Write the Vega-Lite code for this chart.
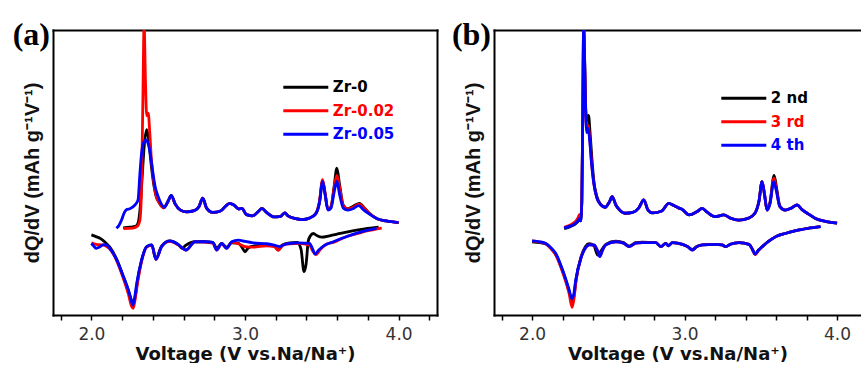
{
  "$schema": "https://vega.github.io/schema/vega-lite/v6.json",
  "background": "white",
  "padding": {"left": 12, "top": 19, "right": 0, "bottom": 0},
  "spacing": 14,
  "config": {
    "view": {"stroke": null},
    "axisX": {
      "values": [1.75, 2, 2.25, 2.5, 2.75, 3, 3.25, 3.5, 3.75, 4, 4.25],
      "labelExpr": "(datum.value * 4) % 2 == 0 ? format(datum.value, '.1f') : ''",
      "tickSize": 5, "tickWidth": 1.5, "tickColor": "black", "domain": true, "domainColor": "black", "domainWidth": 2, "domainCap": "square", "grid": false,
      "labelFont": "DejaVu Sans", "labelFontSize": 17, "labelColor": "#333333", "labelPadding": 6,
      "labelFlush": false, "labelOverlap": false,
      "titleFont": "DejaVu Sans", "titleFontSize": 18, "titleFontWeight": "bold", "titleColor": "#111111", "titlePadding": 3
    },
    "axisY": {
      "labels": false, "ticks": false, "domain": true, "domainColor": "black", "domainWidth": 2, "domainCap": "square", "grid": false,
      "titleFont": "Liberation Sans", "titleFontSize": 20, "titleFontWeight": "bold", "titleColor": "#111111", "titlePadding": 11
    },
    "legend": {
      "orient": "none", "title": null, "padding": 0,
      "symbolType": "M-3,0H3", "symbolSize": 225, "symbolStrokeWidth": 3,
      "labelFont": "DejaVu Sans", "labelFontSize": 15, "labelFontWeight": "bold", "labelOffset": 18, "rowPadding": 6.5
    }
  },
  "resolve": {"scale": {"color": "independent"}, "legend": {"color": "independent"}},
  "hconcat": [
    {
      "width": 384, "height": 285,
      "title": {"text": "(a)", "anchor": "start", "frame": "group", "orient": "top", "align": "right", "baseline": "alphabetic", "offset": -15, "dy": 32, "dx": -3, "font": "Liberation Serif", "fontSize": 32, "fontWeight": "bold", "color": "black"},
      "data": {"values": [
        {"s":"Zr-0","b":"c","v":2.207,"q":30.6},{"s":"Zr-0","b":"c","v":2.25,"q":30.8},{"s":"Zr-0","b":"c","v":2.29,"q":31.2},{"s":"Zr-0","b":"c","v":2.305,"q":32.5},{"s":"Zr-0","b":"c","v":2.318,"q":38},{"s":"Zr-0","b":"c","v":2.33,"q":48},{"s":"Zr-0","b":"c","v":2.345,"q":60},{"s":"Zr-0","b":"c","v":2.36,"q":65},{"s":"Zr-0","b":"c","v":2.372,"q":62},{"s":"Zr-0","b":"c","v":2.385,"q":55},{"s":"Zr-0","b":"c","v":2.4,"q":48},{"s":"Zr-0","b":"c","v":2.42,"q":42},{"s":"Zr-0","b":"c","v":2.44,"q":39.5},
        {"s":"Zr-0","b":"c","v":2.47,"q":37.6},{"s":"Zr-0","b":"c","v":2.5,"q":40},{"s":"Zr-0","b":"c","v":2.52,"q":42},{"s":"Zr-0","b":"c","v":2.545,"q":39},{"s":"Zr-0","b":"c","v":2.58,"q":36.8},{"s":"Zr-0","b":"c","v":2.62,"q":36.2},{"s":"Zr-0","b":"c","v":2.67,"q":36.6},{"s":"Zr-0","b":"c","v":2.7,"q":38},{"s":"Zr-0","b":"c","v":2.725,"q":41},{"s":"Zr-0","b":"c","v":2.75,"q":37.5},{"s":"Zr-0","b":"c","v":2.79,"q":36},{"s":"Zr-0","b":"c","v":2.84,"q":36.5},{"s":"Zr-0","b":"c","v":2.88,"q":38.5},{"s":"Zr-0","b":"c","v":2.9,"q":39.2},{"s":"Zr-0","b":"c","v":2.93,"q":38.5},{"s":"Zr-0","b":"c","v":2.96,"q":37.2},{"s":"Zr-0","b":"c","v":2.98,"q":37.4},{"s":"Zr-0","b":"c","v":3.01,"q":35.2},{"s":"Zr-0","b":"c","v":3.05,"q":34.8},{"s":"Zr-0","b":"c","v":3.09,"q":36.5},{"s":"Zr-0","b":"c","v":3.11,"q":37.4},{"s":"Zr-0","b":"c","v":3.14,"q":36},{"s":"Zr-0","b":"c","v":3.19,"q":34.4},{"s":"Zr-0","b":"c","v":3.23,"q":34.6},{"s":"Zr-0","b":"c","v":3.26,"q":35.8},{"s":"Zr-0","b":"c","v":3.28,"q":34.8},{"s":"Zr-0","b":"c","v":3.33,"q":33.8},{"s":"Zr-0","b":"c","v":3.37,"q":33.5},{"s":"Zr-0","b":"c","v":3.42,"q":34},{"s":"Zr-0","b":"c","v":3.46,"q":35.5},{"s":"Zr-0","b":"c","v":3.485,"q":39.5},{"s":"Zr-0","b":"c","v":3.505,"q":47},{"s":"Zr-0","b":"c","v":3.522,"q":42.5},{"s":"Zr-0","b":"c","v":3.54,"q":37},{"s":"Zr-0","b":"c","v":3.56,"q":38},{"s":"Zr-0","b":"c","v":3.58,"q":45},{"s":"Zr-0","b":"c","v":3.598,"q":51.5},{"s":"Zr-0","b":"c","v":3.615,"q":46},{"s":"Zr-0","b":"c","v":3.64,"q":38.5},{"s":"Zr-0","b":"c","v":3.67,"q":37.3},{"s":"Zr-0","b":"c","v":3.71,"q":38.3},{"s":"Zr-0","b":"c","v":3.745,"q":39.2},{"s":"Zr-0","b":"c","v":3.78,"q":37.4},{"s":"Zr-0","b":"c","v":3.81,"q":35.7},{"s":"Zr-0","b":"c","v":3.86,"q":33.8},{"s":"Zr-0","b":"c","v":3.92,"q":33},{"s":"Zr-0","b":"c","v":4.0,"q":32.4},
        {"s":"Zr-0","b":"d","v":2.0,"q":28.1},{"s":"Zr-0","b":"d","v":2.03,"q":27.5},{"s":"Zr-0","b":"d","v":2.06,"q":26.8},{"s":"Zr-0","b":"d","v":2.09,"q":25.5},{"s":"Zr-0","b":"d","v":2.12,"q":23.8},{"s":"Zr-0","b":"d","v":2.165,"q":19.5},{"s":"Zr-0","b":"d","v":2.208,"q":13.5},{"s":"Zr-0","b":"d","v":2.24,"q":8.8},{"s":"Zr-0","b":"d","v":2.262,"q":5},{"s":"Zr-0","b":"d","v":2.272,"q":4},{"s":"Zr-0","b":"d","v":2.285,"q":6.5},{"s":"Zr-0","b":"d","v":2.3,"q":12},{"s":"Zr-0","b":"d","v":2.327,"q":19.3},{"s":"Zr-0","b":"d","v":2.36,"q":24},{"s":"Zr-0","b":"d","v":2.393,"q":24.6},{"s":"Zr-0","b":"d","v":2.42,"q":19.8},{"s":"Zr-0","b":"d","v":2.457,"q":24.2},{"s":"Zr-0","b":"d","v":2.51,"q":26},{"s":"Zr-0","b":"d","v":2.566,"q":24.7},{"s":"Zr-0","b":"d","v":2.59,"q":23.4},{"s":"Zr-0","b":"d","v":2.616,"q":24.5},{"s":"Zr-0","b":"d","v":2.674,"q":25.7},{"s":"Zr-0","b":"d","v":2.74,"q":25.7},{"s":"Zr-0","b":"d","v":2.79,"q":25.5},{"s":"Zr-0","b":"d","v":2.816,"q":23.5},{"s":"Zr-0","b":"d","v":2.848,"q":25.1},{"s":"Zr-0","b":"d","v":2.88,"q":23.8},{"s":"Zr-0","b":"d","v":2.913,"q":25.3},{"s":"Zr-0","b":"d","v":2.956,"q":25.2},{"s":"Zr-0","b":"d","v":2.98,"q":23.8},{"s":"Zr-0","b":"d","v":3.0,"q":22.2},{"s":"Zr-0","b":"d","v":3.02,"q":23.5},{"s":"Zr-0","b":"d","v":3.054,"q":24.2},{"s":"Zr-0","b":"d","v":3.141,"q":24.5},{"s":"Zr-0","b":"d","v":3.19,"q":24.3},{"s":"Zr-0","b":"d","v":3.217,"q":22.8},{"s":"Zr-0","b":"d","v":3.24,"q":24.5},{"s":"Zr-0","b":"d","v":3.29,"q":25.3},{"s":"Zr-0","b":"d","v":3.34,"q":25.5},{"s":"Zr-0","b":"d","v":3.365,"q":23},{"s":"Zr-0","b":"d","v":3.384,"q":15.2},{"s":"Zr-0","b":"d","v":3.398,"q":18},{"s":"Zr-0","b":"d","v":3.412,"q":26},{"s":"Zr-0","b":"d","v":3.425,"q":27.7},{"s":"Zr-0","b":"d","v":3.445,"q":28.6},{"s":"Zr-0","b":"d","v":3.47,"q":27.8},{"s":"Zr-0","b":"d","v":3.5,"q":27.3},{"s":"Zr-0","b":"d","v":3.55,"q":27.8},{"s":"Zr-0","b":"d","v":3.62,"q":28.6},{"s":"Zr-0","b":"d","v":3.7,"q":29.5},{"s":"Zr-0","b":"d","v":3.78,"q":30.2},{"s":"Zr-0","b":"d","v":3.87,"q":30.8},
        {"s":"Zr-0.02","b":"c","v":2.21,"q":30.3},{"s":"Zr-0.02","b":"c","v":2.27,"q":30.5},{"s":"Zr-0.02","b":"c","v":2.3,"q":31.2},{"s":"Zr-0.02","b":"c","v":2.315,"q":33},{"s":"Zr-0.02","b":"c","v":2.325,"q":42},{"s":"Zr-0.02","b":"c","v":2.335,"q":75},{"s":"Zr-0.02","b":"c","v":2.343,"q":102},{"s":"Zr-0.02","b":"c","v":2.352,"q":82},{"s":"Zr-0.02","b":"c","v":2.36,"q":70},{"s":"Zr-0.02","b":"c","v":2.37,"q":70.8},{"s":"Zr-0.02","b":"c","v":2.38,"q":64},{"s":"Zr-0.02","b":"c","v":2.39,"q":55},{"s":"Zr-0.02","b":"c","v":2.405,"q":47},{"s":"Zr-0.02","b":"c","v":2.42,"q":42},{"s":"Zr-0.02","b":"c","v":2.44,"q":39.5},
        {"s":"Zr-0.02","b":"c","v":2.47,"q":37.6},{"s":"Zr-0.02","b":"c","v":2.5,"q":40},{"s":"Zr-0.02","b":"c","v":2.52,"q":41.8},{"s":"Zr-0.02","b":"c","v":2.545,"q":39},{"s":"Zr-0.02","b":"c","v":2.58,"q":36.8},{"s":"Zr-0.02","b":"c","v":2.62,"q":36.2},{"s":"Zr-0.02","b":"c","v":2.67,"q":36.6},{"s":"Zr-0.02","b":"c","v":2.7,"q":38},{"s":"Zr-0.02","b":"c","v":2.725,"q":41},{"s":"Zr-0.02","b":"c","v":2.75,"q":37.5},{"s":"Zr-0.02","b":"c","v":2.79,"q":36},{"s":"Zr-0.02","b":"c","v":2.84,"q":36.5},{"s":"Zr-0.02","b":"c","v":2.88,"q":38.5},{"s":"Zr-0.02","b":"c","v":2.9,"q":39.2},{"s":"Zr-0.02","b":"c","v":2.93,"q":38.5},{"s":"Zr-0.02","b":"c","v":2.96,"q":37.2},{"s":"Zr-0.02","b":"c","v":2.98,"q":37.4},{"s":"Zr-0.02","b":"c","v":3.01,"q":35.2},{"s":"Zr-0.02","b":"c","v":3.05,"q":34.8},{"s":"Zr-0.02","b":"c","v":3.09,"q":36.5},{"s":"Zr-0.02","b":"c","v":3.11,"q":37.4},{"s":"Zr-0.02","b":"c","v":3.14,"q":36},{"s":"Zr-0.02","b":"c","v":3.19,"q":34.4},{"s":"Zr-0.02","b":"c","v":3.23,"q":34.6},{"s":"Zr-0.02","b":"c","v":3.26,"q":35.8},{"s":"Zr-0.02","b":"c","v":3.28,"q":34.8},{"s":"Zr-0.02","b":"c","v":3.33,"q":33.8},{"s":"Zr-0.02","b":"c","v":3.37,"q":33.5},{"s":"Zr-0.02","b":"c","v":3.42,"q":34},{"s":"Zr-0.02","b":"c","v":3.46,"q":35.5},{"s":"Zr-0.02","b":"c","v":3.485,"q":40},{"s":"Zr-0.02","b":"c","v":3.505,"q":47.5},{"s":"Zr-0.02","b":"c","v":3.522,"q":42.5},{"s":"Zr-0.02","b":"c","v":3.54,"q":37},{"s":"Zr-0.02","b":"c","v":3.56,"q":38},{"s":"Zr-0.02","b":"c","v":3.58,"q":44.5},{"s":"Zr-0.02","b":"c","v":3.598,"q":49},{"s":"Zr-0.02","b":"c","v":3.615,"q":45},{"s":"Zr-0.02","b":"c","v":3.64,"q":38.3},{"s":"Zr-0.02","b":"c","v":3.67,"q":37.2},{"s":"Zr-0.02","b":"c","v":3.71,"q":38},{"s":"Zr-0.02","b":"c","v":3.742,"q":38.9},{"s":"Zr-0.02","b":"c","v":3.78,"q":37.3},{"s":"Zr-0.02","b":"c","v":3.81,"q":35.6},{"s":"Zr-0.02","b":"c","v":3.86,"q":33.8},{"s":"Zr-0.02","b":"c","v":3.92,"q":33},{"s":"Zr-0.02","b":"c","v":4.0,"q":32.4},
        {"s":"Zr-0.02","b":"d","v":2.0,"q":25.3},{"s":"Zr-0.02","b":"d","v":2.03,"q":24.8},{"s":"Zr-0.02","b":"d","v":2.07,"q":24.6},{"s":"Zr-0.02","b":"d","v":2.1,"q":24},{"s":"Zr-0.02","b":"d","v":2.13,"q":22.5},{"s":"Zr-0.02","b":"d","v":2.165,"q":19},{"s":"Zr-0.02","b":"d","v":2.205,"q":13.3},{"s":"Zr-0.02","b":"d","v":2.24,"q":7.5},{"s":"Zr-0.02","b":"d","v":2.262,"q":3},{"s":"Zr-0.02","b":"d","v":2.272,"q":2.3},{"s":"Zr-0.02","b":"d","v":2.285,"q":5.5},{"s":"Zr-0.02","b":"d","v":2.3,"q":11},{"s":"Zr-0.02","b":"d","v":2.327,"q":18.8},{"s":"Zr-0.02","b":"d","v":2.36,"q":23.8},{"s":"Zr-0.02","b":"d","v":2.393,"q":24.4},{"s":"Zr-0.02","b":"d","v":2.42,"q":19.5},{"s":"Zr-0.02","b":"d","v":2.457,"q":24},{"s":"Zr-0.02","b":"d","v":2.51,"q":25.8},{"s":"Zr-0.02","b":"d","v":2.566,"q":24.6},{"s":"Zr-0.02","b":"d","v":2.616,"q":22.8},{"s":"Zr-0.02","b":"d","v":2.674,"q":25.7},{"s":"Zr-0.02","b":"d","v":2.74,"q":25.6},{"s":"Zr-0.02","b":"d","v":2.79,"q":25.2},{"s":"Zr-0.02","b":"d","v":2.816,"q":22.8},{"s":"Zr-0.02","b":"d","v":2.848,"q":25},{"s":"Zr-0.02","b":"d","v":2.88,"q":23.4},{"s":"Zr-0.02","b":"d","v":2.913,"q":25.5},{"s":"Zr-0.02","b":"d","v":2.956,"q":25},{"s":"Zr-0.02","b":"d","v":3.0,"q":24},{"s":"Zr-0.02","b":"d","v":3.054,"q":23.8},{"s":"Zr-0.02","b":"d","v":3.141,"q":24.3},{"s":"Zr-0.02","b":"d","v":3.19,"q":24},{"s":"Zr-0.02","b":"d","v":3.217,"q":22.8},{"s":"Zr-0.02","b":"d","v":3.25,"q":24.6},{"s":"Zr-0.02","b":"d","v":3.29,"q":25},{"s":"Zr-0.02","b":"d","v":3.35,"q":25.1},{"s":"Zr-0.02","b":"d","v":3.42,"q":24.5},{"s":"Zr-0.02","b":"d","v":3.44,"q":22.5},{"s":"Zr-0.02","b":"d","v":3.462,"q":21.2},{"s":"Zr-0.02","b":"d","v":3.49,"q":23},{"s":"Zr-0.02","b":"d","v":3.53,"q":24.8},{"s":"Zr-0.02","b":"d","v":3.575,"q":25.5},{"s":"Zr-0.02","b":"d","v":3.65,"q":27.3},{"s":"Zr-0.02","b":"d","v":3.727,"q":28.5},{"s":"Zr-0.02","b":"d","v":3.8,"q":29.6},{"s":"Zr-0.02","b":"d","v":3.857,"q":30.2},{"s":"Zr-0.02","b":"d","v":3.89,"q":30.5},
        {"s":"Zr-0.05","b":"c","v":2.163,"q":30.4},{"s":"Zr-0.05","b":"c","v":2.18,"q":31.5},{"s":"Zr-0.05","b":"c","v":2.196,"q":33.3},{"s":"Zr-0.05","b":"c","v":2.215,"q":36},{"s":"Zr-0.05","b":"c","v":2.23,"q":37},{"s":"Zr-0.05","b":"c","v":2.25,"q":37.3},{"s":"Zr-0.05","b":"c","v":2.272,"q":38},{"s":"Zr-0.05","b":"c","v":2.29,"q":39},{"s":"Zr-0.05","b":"c","v":2.304,"q":40.5},{"s":"Zr-0.05","b":"c","v":2.315,"q":49},{"s":"Zr-0.05","b":"c","v":2.327,"q":57},{"s":"Zr-0.05","b":"c","v":2.34,"q":60.5},{"s":"Zr-0.05","b":"c","v":2.355,"q":61.4},{"s":"Zr-0.05","b":"c","v":2.37,"q":60},{"s":"Zr-0.05","b":"c","v":2.385,"q":56},{"s":"Zr-0.05","b":"c","v":2.4,"q":50},{"s":"Zr-0.05","b":"c","v":2.415,"q":45},{"s":"Zr-0.05","b":"c","v":2.435,"q":41.5},{"s":"Zr-0.05","b":"c","v":2.455,"q":39},
        {"s":"Zr-0.05","b":"c","v":2.475,"q":37.8},{"s":"Zr-0.05","b":"c","v":2.5,"q":40},{"s":"Zr-0.05","b":"c","v":2.52,"q":42},{"s":"Zr-0.05","b":"c","v":2.545,"q":39},{"s":"Zr-0.05","b":"c","v":2.58,"q":36.8},{"s":"Zr-0.05","b":"c","v":2.62,"q":36.2},{"s":"Zr-0.05","b":"c","v":2.67,"q":36.6},{"s":"Zr-0.05","b":"c","v":2.7,"q":38},{"s":"Zr-0.05","b":"c","v":2.725,"q":41},{"s":"Zr-0.05","b":"c","v":2.75,"q":37.5},{"s":"Zr-0.05","b":"c","v":2.79,"q":36},{"s":"Zr-0.05","b":"c","v":2.84,"q":36.5},{"s":"Zr-0.05","b":"c","v":2.88,"q":38.5},{"s":"Zr-0.05","b":"c","v":2.9,"q":39.2},{"s":"Zr-0.05","b":"c","v":2.93,"q":38.5},{"s":"Zr-0.05","b":"c","v":2.96,"q":37.2},{"s":"Zr-0.05","b":"c","v":2.98,"q":37.4},{"s":"Zr-0.05","b":"c","v":3.01,"q":35.2},{"s":"Zr-0.05","b":"c","v":3.05,"q":34.8},{"s":"Zr-0.05","b":"c","v":3.09,"q":36.5},{"s":"Zr-0.05","b":"c","v":3.11,"q":37.4},{"s":"Zr-0.05","b":"c","v":3.14,"q":36},{"s":"Zr-0.05","b":"c","v":3.19,"q":34.4},{"s":"Zr-0.05","b":"c","v":3.23,"q":34.6},{"s":"Zr-0.05","b":"c","v":3.26,"q":35.8},{"s":"Zr-0.05","b":"c","v":3.28,"q":34.8},{"s":"Zr-0.05","b":"c","v":3.33,"q":33.8},{"s":"Zr-0.05","b":"c","v":3.37,"q":33.5},{"s":"Zr-0.05","b":"c","v":3.42,"q":34},{"s":"Zr-0.05","b":"c","v":3.46,"q":35.5},{"s":"Zr-0.05","b":"c","v":3.485,"q":39.5},{"s":"Zr-0.05","b":"c","v":3.505,"q":46.8},{"s":"Zr-0.05","b":"c","v":3.522,"q":42},{"s":"Zr-0.05","b":"c","v":3.54,"q":36.8},{"s":"Zr-0.05","b":"c","v":3.56,"q":37.5},{"s":"Zr-0.05","b":"c","v":3.58,"q":43},{"s":"Zr-0.05","b":"c","v":3.598,"q":47},{"s":"Zr-0.05","b":"c","v":3.615,"q":42.5},{"s":"Zr-0.05","b":"c","v":3.64,"q":37.5},{"s":"Zr-0.05","b":"c","v":3.67,"q":36.8},{"s":"Zr-0.05","b":"c","v":3.71,"q":37.5},{"s":"Zr-0.05","b":"c","v":3.74,"q":38.4},{"s":"Zr-0.05","b":"c","v":3.77,"q":37},{"s":"Zr-0.05","b":"c","v":3.81,"q":35.4},{"s":"Zr-0.05","b":"c","v":3.86,"q":33.8},{"s":"Zr-0.05","b":"c","v":3.92,"q":33},{"s":"Zr-0.05","b":"c","v":4.0,"q":32.4},
        {"s":"Zr-0.05","b":"d","v":2.0,"q":25.1},{"s":"Zr-0.05","b":"d","v":2.015,"q":24.2},{"s":"Zr-0.05","b":"d","v":2.03,"q":23.4},{"s":"Zr-0.05","b":"d","v":2.05,"q":23.8},{"s":"Zr-0.05","b":"d","v":2.08,"q":24.7},{"s":"Zr-0.05","b":"d","v":2.1,"q":24.5},{"s":"Zr-0.05","b":"d","v":2.12,"q":23.4},{"s":"Zr-0.05","b":"d","v":2.165,"q":19.3},{"s":"Zr-0.05","b":"d","v":2.208,"q":13.5},{"s":"Zr-0.05","b":"d","v":2.24,"q":8.8},{"s":"Zr-0.05","b":"d","v":2.258,"q":5.5},{"s":"Zr-0.05","b":"d","v":2.269,"q":3.5},{"s":"Zr-0.05","b":"d","v":2.28,"q":5.5},{"s":"Zr-0.05","b":"d","v":2.295,"q":11.1},{"s":"Zr-0.05","b":"d","v":2.327,"q":19.3},{"s":"Zr-0.05","b":"d","v":2.36,"q":24},{"s":"Zr-0.05","b":"d","v":2.393,"q":24.6},{"s":"Zr-0.05","b":"d","v":2.42,"q":19.5},{"s":"Zr-0.05","b":"d","v":2.457,"q":24},{"s":"Zr-0.05","b":"d","v":2.51,"q":26},{"s":"Zr-0.05","b":"d","v":2.566,"q":24.7},{"s":"Zr-0.05","b":"d","v":2.616,"q":22.8},{"s":"Zr-0.05","b":"d","v":2.674,"q":25.7},{"s":"Zr-0.05","b":"d","v":2.74,"q":25.7},{"s":"Zr-0.05","b":"d","v":2.79,"q":25.5},{"s":"Zr-0.05","b":"d","v":2.816,"q":22.8},{"s":"Zr-0.05","b":"d","v":2.848,"q":25.1},{"s":"Zr-0.05","b":"d","v":2.88,"q":23.4},{"s":"Zr-0.05","b":"d","v":2.913,"q":25.7},{"s":"Zr-0.05","b":"d","v":2.956,"q":26.3},{"s":"Zr-0.05","b":"d","v":3.0,"q":25.8},{"s":"Zr-0.05","b":"d","v":3.054,"q":25.3},{"s":"Zr-0.05","b":"d","v":3.141,"q":25},{"s":"Zr-0.05","b":"d","v":3.19,"q":24.5},{"s":"Zr-0.05","b":"d","v":3.228,"q":24},{"s":"Zr-0.05","b":"d","v":3.26,"q":24.8},{"s":"Zr-0.05","b":"d","v":3.29,"q":25.1},{"s":"Zr-0.05","b":"d","v":3.35,"q":25.3},{"s":"Zr-0.05","b":"d","v":3.42,"q":25.1},{"s":"Zr-0.05","b":"d","v":3.44,"q":23.2},{"s":"Zr-0.05","b":"d","v":3.456,"q":21.4},{"s":"Zr-0.05","b":"d","v":3.48,"q":22.8},{"s":"Zr-0.05","b":"d","v":3.52,"q":24.5},{"s":"Zr-0.05","b":"d","v":3.575,"q":25.7},{"s":"Zr-0.05","b":"d","v":3.65,"q":27.3},{"s":"Zr-0.05","b":"d","v":3.727,"q":28.7},{"s":"Zr-0.05","b":"d","v":3.8,"q":29.8},{"s":"Zr-0.05","b":"d","v":3.857,"q":30.4}
      ]},
      "layer": [
        {
          "mark": {"type": "line", "strokeWidth": 2.8, "interpolate": "monotone", "clip": true},
          "encoding": {
            "x": {"field": "v", "type": "quantitative", "scale": {"domain": [1.75, 4.25], "nice": false, "zero": false}, "title": "Voltage (V vs.Na/Na⁺)"},
            "y": {"field": "q", "type": "quantitative", "scale": {"domain": [0, 100], "nice": false}, "title": "dQ/dV (mAh g⁻¹V⁻¹)"},
            "color": {"field": "s", "type": "nominal", "scale": {"domain": ["Zr-0", "Zr-0.02", "Zr-0.05"], "range": ["#000000", "#ff0000", "#0000ff"]},
              "legend": {"legendX": 243.8, "legendY": 48.3, "labelColor": {"expr": "datum.value == 'Zr-0' ? '#000000' : datum.value == 'Zr-0.02' ? '#ff0000' : '#0000ff'"}}},
            "detail": {"field": "b"}
          }
        },
        {
          "mark": {"type": "point", "opacity": 0, "clip": true},
          "encoding": {
            "x": {"field": "v", "type": "quantitative", "axis": {"orient": "top", "labels": false, "ticks": false, "title": null, "domain": true, "domainColor": "black", "domainWidth": 2, "domainCap": "square"}},
            "y": {"field": "q", "type": "quantitative", "axis": {"orient": "right", "labels": false, "ticks": false, "title": null, "domain": true, "domainColor": "black", "domainWidth": 2, "domainCap": "square"}}
          }
        }
      ],
      "resolve": {"axis": {"x": "independent", "y": "independent"}}
    },
    {
      "width": 367, "height": 285,
      "title": {"text": "(b)", "anchor": "start", "frame": "group", "orient": "top", "align": "right", "baseline": "alphabetic", "offset": -15, "dy": 32, "dx": -3, "font": "Liberation Serif", "fontSize": 32, "fontWeight": "bold", "color": "black"},
      "data": {"values": [
        {"s":"2 nd","b":"c","v":2.21,"q":30.3},{"s":"2 nd","b":"c","v":2.25,"q":31},{"s":"2 nd","b":"c","v":2.28,"q":31.8},{"s":"2 nd","b":"c","v":2.3,"q":32.8},{"s":"2 nd","b":"c","v":2.31,"q":33.5},{"s":"2 nd","b":"c","v":2.318,"q":33},{"s":"2 nd","b":"c","v":2.326,"q":40},{"s":"2 nd","b":"c","v":2.332,"q":70},{"s":"2 nd","b":"c","v":2.338,"q":101},{"s":"2 nd","b":"c","v":2.345,"q":88},{"s":"2 nd","b":"c","v":2.352,"q":72},{"s":"2 nd","b":"c","v":2.36,"q":68},{"s":"2 nd","b":"c","v":2.37,"q":70},{"s":"2 nd","b":"c","v":2.38,"q":64},{"s":"2 nd","b":"c","v":2.392,"q":55},{"s":"2 nd","b":"c","v":2.405,"q":47},{"s":"2 nd","b":"c","v":2.425,"q":41.5},{"s":"2 nd","b":"c","v":2.45,"q":38.8},{"s":"2 nd","b":"c","v":2.48,"q":37.8},{"s":"2 nd","b":"c","v":2.505,"q":39.5},{"s":"2 nd","b":"c","v":2.525,"q":41.5},{"s":"2 nd","b":"c","v":2.55,"q":38.5},{"s":"2 nd","b":"c","v":2.58,"q":36.5},{"s":"2 nd","b":"c","v":2.61,"q":35.7},{"s":"2 nd","b":"c","v":2.66,"q":36},{"s":"2 nd","b":"c","v":2.7,"q":37.6},{"s":"2 nd","b":"c","v":2.732,"q":40.4},{"s":"2 nd","b":"c","v":2.76,"q":36.8},{"s":"2 nd","b":"c","v":2.79,"q":35.8},{"s":"2 nd","b":"c","v":2.85,"q":36.5},{"s":"2 nd","b":"c","v":2.896,"q":39.2},{"s":"2 nd","b":"c","v":2.93,"q":38.4},{"s":"2 nd","b":"c","v":2.96,"q":37.6},{"s":"2 nd","b":"c","v":2.98,"q":37.2},{"s":"2 nd","b":"c","v":3.03,"q":35.1},{"s":"2 nd","b":"c","v":3.08,"q":36.2},{"s":"2 nd","b":"c","v":3.115,"q":37.4},{"s":"2 nd","b":"c","v":3.15,"q":36},{"s":"2 nd","b":"c","v":3.2,"q":34.5},{"s":"2 nd","b":"c","v":3.257,"q":35.1},{"s":"2 nd","b":"c","v":3.3,"q":34},{"s":"2 nd","b":"c","v":3.355,"q":33.3},{"s":"2 nd","b":"c","v":3.42,"q":34},{"s":"2 nd","b":"c","v":3.46,"q":35.6},{"s":"2 nd","b":"c","v":3.488,"q":40},{"s":"2 nd","b":"c","v":3.508,"q":46.8},{"s":"2 nd","b":"c","v":3.525,"q":42},{"s":"2 nd","b":"c","v":3.541,"q":36.8},{"s":"2 nd","b":"c","v":3.56,"q":39.5},{"s":"2 nd","b":"c","v":3.587,"q":49},{"s":"2 nd","b":"c","v":3.602,"q":45},{"s":"2 nd","b":"c","v":3.625,"q":38.2},{"s":"2 nd","b":"c","v":3.66,"q":36.8},{"s":"2 nd","b":"c","v":3.7,"q":37.5},{"s":"2 nd","b":"c","v":3.738,"q":38.6},{"s":"2 nd","b":"c","v":3.77,"q":37},{"s":"2 nd","b":"c","v":3.81,"q":35.5},{"s":"2 nd","b":"c","v":3.858,"q":33.9},{"s":"2 nd","b":"c","v":3.93,"q":32.8},{"s":"2 nd","b":"c","v":4.0,"q":32.2},
        {"s":"2 nd","b":"d","v":2.0,"q":25.7},{"s":"2 nd","b":"d","v":2.05,"q":25.4},{"s":"2 nd","b":"d","v":2.09,"q":24.9},{"s":"2 nd","b":"d","v":2.12,"q":23.6},{"s":"2 nd","b":"d","v":2.155,"q":21.3},{"s":"2 nd","b":"d","v":2.2,"q":15.5},{"s":"2 nd","b":"d","v":2.243,"q":8.3},{"s":"2 nd","b":"d","v":2.262,"q":4.7},{"s":"2 nd","b":"d","v":2.274,"q":6.5},{"s":"2 nd","b":"d","v":2.288,"q":12.3},{"s":"2 nd","b":"d","v":2.32,"q":20.2},{"s":"2 nd","b":"d","v":2.35,"q":24},{"s":"2 nd","b":"d","v":2.374,"q":25},{"s":"2 nd","b":"d","v":2.405,"q":24.3},{"s":"2 nd","b":"d","v":2.43,"q":21},{"s":"2 nd","b":"d","v":2.452,"q":22.5},{"s":"2 nd","b":"d","v":2.483,"q":24.8},{"s":"2 nd","b":"d","v":2.549,"q":25.9},{"s":"2 nd","b":"d","v":2.6,"q":25.4},{"s":"2 nd","b":"d","v":2.636,"q":24.2},{"s":"2 nd","b":"d","v":2.68,"q":25.4},{"s":"2 nd","b":"d","v":2.723,"q":25.6},{"s":"2 nd","b":"d","v":2.811,"q":25.4},{"s":"2 nd","b":"d","v":2.844,"q":24},{"s":"2 nd","b":"d","v":2.877,"q":25.1},{"s":"2 nd","b":"d","v":2.894,"q":24.3},{"s":"2 nd","b":"d","v":2.92,"q":25.4},{"s":"2 nd","b":"d","v":2.986,"q":24.8},{"s":"2 nd","b":"d","v":3.02,"q":24},{"s":"2 nd","b":"d","v":3.051,"q":23},{"s":"2 nd","b":"d","v":3.08,"q":24},{"s":"2 nd","b":"d","v":3.117,"q":24.6},{"s":"2 nd","b":"d","v":3.2,"q":24.8},{"s":"2 nd","b":"d","v":3.245,"q":24.6},{"s":"2 nd","b":"d","v":3.27,"q":24},{"s":"2 nd","b":"d","v":3.3,"q":24.8},{"s":"2 nd","b":"d","v":3.357,"q":25.4},{"s":"2 nd","b":"d","v":3.423,"q":24.8},{"s":"2 nd","b":"d","v":3.445,"q":23},{"s":"2 nd","b":"d","v":3.462,"q":21.4},{"s":"2 nd","b":"d","v":3.485,"q":22.8},{"s":"2 nd","b":"d","v":3.51,"q":24},{"s":"2 nd","b":"d","v":3.55,"q":25.8},{"s":"2 nd","b":"d","v":3.598,"q":27.5},{"s":"2 nd","b":"d","v":3.66,"q":28.6},{"s":"2 nd","b":"d","v":3.729,"q":29.6},{"s":"2 nd","b":"d","v":3.81,"q":30.4},{"s":"2 nd","b":"d","v":3.89,"q":31},
        {"s":"3 rd","b":"c","v":2.21,"q":30.8},{"s":"3 rd","b":"c","v":2.25,"q":31.6},{"s":"3 rd","b":"c","v":2.28,"q":32.6},{"s":"3 rd","b":"c","v":2.3,"q":34},{"s":"3 rd","b":"c","v":2.31,"q":35.2},{"s":"3 rd","b":"c","v":2.318,"q":34},{"s":"3 rd","b":"c","v":2.326,"q":40},{"s":"3 rd","b":"c","v":2.332,"q":70},{"s":"3 rd","b":"c","v":2.338,"q":101},{"s":"3 rd","b":"c","v":2.345,"q":88},{"s":"3 rd","b":"c","v":2.352,"q":70},{"s":"3 rd","b":"c","v":2.36,"q":65},{"s":"3 rd","b":"c","v":2.368,"q":66.5},{"s":"3 rd","b":"c","v":2.378,"q":62},{"s":"3 rd","b":"c","v":2.39,"q":53.5},{"s":"3 rd","b":"c","v":2.405,"q":46},{"s":"3 rd","b":"c","v":2.425,"q":41},{"s":"3 rd","b":"c","v":2.45,"q":38.7},{"s":"3 rd","b":"c","v":2.48,"q":37.8},{"s":"3 rd","b":"c","v":2.505,"q":39.5},{"s":"3 rd","b":"c","v":2.525,"q":41.5},{"s":"3 rd","b":"c","v":2.55,"q":38.5},{"s":"3 rd","b":"c","v":2.58,"q":36.5},{"s":"3 rd","b":"c","v":2.61,"q":35.7},{"s":"3 rd","b":"c","v":2.66,"q":36},{"s":"3 rd","b":"c","v":2.7,"q":37.6},{"s":"3 rd","b":"c","v":2.732,"q":40.4},{"s":"3 rd","b":"c","v":2.76,"q":36.8},{"s":"3 rd","b":"c","v":2.79,"q":35.8},{"s":"3 rd","b":"c","v":2.85,"q":36.5},{"s":"3 rd","b":"c","v":2.896,"q":39.2},{"s":"3 rd","b":"c","v":2.93,"q":38.4},{"s":"3 rd","b":"c","v":2.96,"q":37.6},{"s":"3 rd","b":"c","v":2.98,"q":37.2},{"s":"3 rd","b":"c","v":3.03,"q":35.1},{"s":"3 rd","b":"c","v":3.08,"q":36.2},{"s":"3 rd","b":"c","v":3.115,"q":37.4},{"s":"3 rd","b":"c","v":3.15,"q":36},{"s":"3 rd","b":"c","v":3.2,"q":34.5},{"s":"3 rd","b":"c","v":3.257,"q":35.1},{"s":"3 rd","b":"c","v":3.3,"q":34},{"s":"3 rd","b":"c","v":3.355,"q":33.3},{"s":"3 rd","b":"c","v":3.42,"q":34},{"s":"3 rd","b":"c","v":3.46,"q":35.6},{"s":"3 rd","b":"c","v":3.488,"q":40},{"s":"3 rd","b":"c","v":3.508,"q":46.8},{"s":"3 rd","b":"c","v":3.525,"q":42},{"s":"3 rd","b":"c","v":3.541,"q":36.8},{"s":"3 rd","b":"c","v":3.56,"q":39.2},{"s":"3 rd","b":"c","v":3.586,"q":48},{"s":"3 rd","b":"c","v":3.601,"q":44.5},{"s":"3 rd","b":"c","v":3.625,"q":38},{"s":"3 rd","b":"c","v":3.66,"q":36.8},{"s":"3 rd","b":"c","v":3.7,"q":37.5},{"s":"3 rd","b":"c","v":3.738,"q":38.6},{"s":"3 rd","b":"c","v":3.77,"q":37},{"s":"3 rd","b":"c","v":3.81,"q":35.5},{"s":"3 rd","b":"c","v":3.858,"q":33.9},{"s":"3 rd","b":"c","v":3.93,"q":32.8},{"s":"3 rd","b":"c","v":4.0,"q":32.2},
        {"s":"3 rd","b":"d","v":2.0,"q":26},{"s":"3 rd","b":"d","v":2.05,"q":25.6},{"s":"3 rd","b":"d","v":2.09,"q":25},{"s":"3 rd","b":"d","v":2.12,"q":23.5},{"s":"3 rd","b":"d","v":2.155,"q":21},{"s":"3 rd","b":"d","v":2.2,"q":15},{"s":"3 rd","b":"d","v":2.243,"q":7.5},{"s":"3 rd","b":"d","v":2.262,"q":2.7},{"s":"3 rd","b":"d","v":2.274,"q":5.5},{"s":"3 rd","b":"d","v":2.288,"q":12},{"s":"3 rd","b":"d","v":2.32,"q":20},{"s":"3 rd","b":"d","v":2.35,"q":23.6},{"s":"3 rd","b":"d","v":2.374,"q":24.6},{"s":"3 rd","b":"d","v":2.407,"q":24.5},{"s":"3 rd","b":"d","v":2.425,"q":23},{"s":"3 rd","b":"d","v":2.444,"q":20.6},{"s":"3 rd","b":"d","v":2.46,"q":22.5},{"s":"3 rd","b":"d","v":2.483,"q":24.6},{"s":"3 rd","b":"d","v":2.549,"q":25.7},{"s":"3 rd","b":"d","v":2.6,"q":25.2},{"s":"3 rd","b":"d","v":2.636,"q":24},{"s":"3 rd","b":"d","v":2.68,"q":25.2},{"s":"3 rd","b":"d","v":2.723,"q":25.4},{"s":"3 rd","b":"d","v":2.811,"q":25.4},{"s":"3 rd","b":"d","v":2.844,"q":24},{"s":"3 rd","b":"d","v":2.877,"q":25.1},{"s":"3 rd","b":"d","v":2.894,"q":24.3},{"s":"3 rd","b":"d","v":2.92,"q":25.4},{"s":"3 rd","b":"d","v":2.986,"q":24.8},{"s":"3 rd","b":"d","v":3.02,"q":24},{"s":"3 rd","b":"d","v":3.051,"q":22.8},{"s":"3 rd","b":"d","v":3.08,"q":24},{"s":"3 rd","b":"d","v":3.117,"q":24.6},{"s":"3 rd","b":"d","v":3.2,"q":24.8},{"s":"3 rd","b":"d","v":3.245,"q":24.6},{"s":"3 rd","b":"d","v":3.27,"q":24},{"s":"3 rd","b":"d","v":3.3,"q":24.8},{"s":"3 rd","b":"d","v":3.357,"q":25.4},{"s":"3 rd","b":"d","v":3.423,"q":24.8},{"s":"3 rd","b":"d","v":3.445,"q":23},{"s":"3 rd","b":"d","v":3.464,"q":21.2},{"s":"3 rd","b":"d","v":3.487,"q":22.8},{"s":"3 rd","b":"d","v":3.51,"q":24},{"s":"3 rd","b":"d","v":3.55,"q":25.8},{"s":"3 rd","b":"d","v":3.598,"q":27.5},{"s":"3 rd","b":"d","v":3.66,"q":28.6},{"s":"3 rd","b":"d","v":3.729,"q":29.6},{"s":"3 rd","b":"d","v":3.81,"q":30.4},{"s":"3 rd","b":"d","v":3.89,"q":31},
        {"s":"4 th","b":"c","v":2.21,"q":30.6},{"s":"4 th","b":"c","v":2.25,"q":31.2},{"s":"4 th","b":"c","v":2.28,"q":32},{"s":"4 th","b":"c","v":2.3,"q":33},{"s":"4 th","b":"c","v":2.31,"q":33.8},{"s":"4 th","b":"c","v":2.318,"q":33},{"s":"4 th","b":"c","v":2.326,"q":40},{"s":"4 th","b":"c","v":2.332,"q":70},{"s":"4 th","b":"c","v":2.338,"q":101},{"s":"4 th","b":"c","v":2.345,"q":88},{"s":"4 th","b":"c","v":2.352,"q":70},{"s":"4 th","b":"c","v":2.36,"q":64},{"s":"4 th","b":"c","v":2.368,"q":65.5},{"s":"4 th","b":"c","v":2.378,"q":61},{"s":"4 th","b":"c","v":2.39,"q":53},{"s":"4 th","b":"c","v":2.405,"q":46},{"s":"4 th","b":"c","v":2.425,"q":41},{"s":"4 th","b":"c","v":2.45,"q":38.7},{"s":"4 th","b":"c","v":2.48,"q":37.8},{"s":"4 th","b":"c","v":2.505,"q":39.5},{"s":"4 th","b":"c","v":2.525,"q":41.5},{"s":"4 th","b":"c","v":2.55,"q":38.5},{"s":"4 th","b":"c","v":2.58,"q":36.5},{"s":"4 th","b":"c","v":2.61,"q":35.7},{"s":"4 th","b":"c","v":2.66,"q":36},{"s":"4 th","b":"c","v":2.7,"q":37.6},{"s":"4 th","b":"c","v":2.732,"q":40.4},{"s":"4 th","b":"c","v":2.76,"q":36.8},{"s":"4 th","b":"c","v":2.79,"q":35.8},{"s":"4 th","b":"c","v":2.85,"q":36.5},{"s":"4 th","b":"c","v":2.896,"q":39.2},{"s":"4 th","b":"c","v":2.93,"q":38.4},{"s":"4 th","b":"c","v":2.96,"q":37.6},{"s":"4 th","b":"c","v":2.98,"q":37.2},{"s":"4 th","b":"c","v":3.03,"q":35.1},{"s":"4 th","b":"c","v":3.08,"q":36.2},{"s":"4 th","b":"c","v":3.115,"q":37.4},{"s":"4 th","b":"c","v":3.15,"q":36},{"s":"4 th","b":"c","v":3.2,"q":34.5},{"s":"4 th","b":"c","v":3.257,"q":35.1},{"s":"4 th","b":"c","v":3.3,"q":34},{"s":"4 th","b":"c","v":3.355,"q":33.3},{"s":"4 th","b":"c","v":3.42,"q":34},{"s":"4 th","b":"c","v":3.46,"q":35.6},{"s":"4 th","b":"c","v":3.488,"q":40},{"s":"4 th","b":"c","v":3.508,"q":46.8},{"s":"4 th","b":"c","v":3.525,"q":42},{"s":"4 th","b":"c","v":3.541,"q":36.8},{"s":"4 th","b":"c","v":3.56,"q":39},{"s":"4 th","b":"c","v":3.585,"q":46.8},{"s":"4 th","b":"c","v":3.6,"q":44},{"s":"4 th","b":"c","v":3.625,"q":38},{"s":"4 th","b":"c","v":3.66,"q":36.8},{"s":"4 th","b":"c","v":3.7,"q":37.5},{"s":"4 th","b":"c","v":3.738,"q":38.6},{"s":"4 th","b":"c","v":3.77,"q":37},{"s":"4 th","b":"c","v":3.81,"q":35.5},{"s":"4 th","b":"c","v":3.858,"q":33.9},{"s":"4 th","b":"c","v":3.93,"q":32.8},{"s":"4 th","b":"c","v":4.0,"q":32.2},
        {"s":"4 th","b":"d","v":2.0,"q":26},{"s":"4 th","b":"d","v":2.05,"q":25.7},{"s":"4 th","b":"d","v":2.09,"q":25.1},{"s":"4 th","b":"d","v":2.12,"q":23.8},{"s":"4 th","b":"d","v":2.155,"q":21.6},{"s":"4 th","b":"d","v":2.2,"q":15.8},{"s":"4 th","b":"d","v":2.243,"q":8.8},{"s":"4 th","b":"d","v":2.26,"q":5.8},{"s":"4 th","b":"d","v":2.272,"q":7},{"s":"4 th","b":"d","v":2.286,"q":12.3},{"s":"4 th","b":"d","v":2.32,"q":19.9},{"s":"4 th","b":"d","v":2.35,"q":23.5},{"s":"4 th","b":"d","v":2.374,"q":24.6},{"s":"4 th","b":"d","v":2.407,"q":24.6},{"s":"4 th","b":"d","v":2.425,"q":23},{"s":"4 th","b":"d","v":2.444,"q":20.5},{"s":"4 th","b":"d","v":2.46,"q":22.5},{"s":"4 th","b":"d","v":2.483,"q":24.6},{"s":"4 th","b":"d","v":2.549,"q":25.7},{"s":"4 th","b":"d","v":2.6,"q":25.2},{"s":"4 th","b":"d","v":2.636,"q":24},{"s":"4 th","b":"d","v":2.68,"q":25.2},{"s":"4 th","b":"d","v":2.723,"q":25.4},{"s":"4 th","b":"d","v":2.811,"q":25.4},{"s":"4 th","b":"d","v":2.844,"q":24},{"s":"4 th","b":"d","v":2.877,"q":25.1},{"s":"4 th","b":"d","v":2.894,"q":24.3},{"s":"4 th","b":"d","v":2.92,"q":25.4},{"s":"4 th","b":"d","v":2.986,"q":24.8},{"s":"4 th","b":"d","v":3.02,"q":24},{"s":"4 th","b":"d","v":3.051,"q":22.8},{"s":"4 th","b":"d","v":3.08,"q":24},{"s":"4 th","b":"d","v":3.117,"q":24.6},{"s":"4 th","b":"d","v":3.2,"q":24.8},{"s":"4 th","b":"d","v":3.245,"q":24.6},{"s":"4 th","b":"d","v":3.27,"q":24},{"s":"4 th","b":"d","v":3.3,"q":24.8},{"s":"4 th","b":"d","v":3.357,"q":25.4},{"s":"4 th","b":"d","v":3.423,"q":24.8},{"s":"4 th","b":"d","v":3.445,"q":23},{"s":"4 th","b":"d","v":3.462,"q":21.4},{"s":"4 th","b":"d","v":3.485,"q":22.8},{"s":"4 th","b":"d","v":3.51,"q":24},{"s":"4 th","b":"d","v":3.55,"q":25.8},{"s":"4 th","b":"d","v":3.598,"q":27.5},{"s":"4 th","b":"d","v":3.66,"q":28.6},{"s":"4 th","b":"d","v":3.729,"q":29.6},{"s":"4 th","b":"d","v":3.81,"q":30.4},{"s":"4 th","b":"d","v":3.893,"q":31}
      ]},
      "layer": [
        {
          "mark": {"type": "line", "strokeWidth": 2.8, "interpolate": "monotone", "clip": true},
          "encoding": {
            "x": {"field": "v", "type": "quantitative", "scale": {"domain": [1.75, 4.157], "nice": false, "zero": false}, "title": "Voltage (V vs.Na/Na⁺)"},
            "y": {"field": "q", "type": "quantitative", "scale": {"domain": [0, 100], "nice": false}, "title": "dQ/dV (mAh g⁻¹V⁻¹)"},
            "color": {"field": "s", "type": "nominal", "scale": {"domain": ["2 nd", "3 rd", "4 th"], "range": ["#000000", "#ff0000", "#0000ff"]},
              "legend": {"legendX": 240.8, "legendY": 59.3, "labelColor": {"expr": "datum.value == '2 nd' ? '#000000' : datum.value == '3 rd' ? '#ff0000' : '#0000ff'"}}},
            "detail": {"field": "b"}
          }
        },
        {
          "mark": {"type": "point", "opacity": 0, "clip": true},
          "encoding": {
            "x": {"field": "v", "type": "quantitative", "axis": {"orient": "top", "labels": false, "ticks": false, "title": null, "domain": true, "domainColor": "black", "domainWidth": 2, "domainCap": "square"}}
          }
        }
      ],
      "resolve": {"axis": {"x": "independent"}}
    }
  ]
}
